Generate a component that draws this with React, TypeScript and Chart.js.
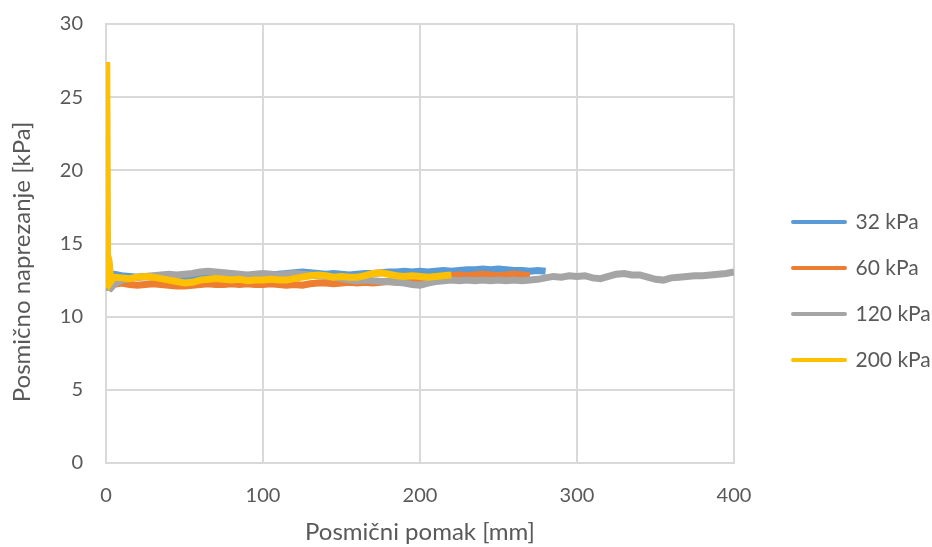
import { useEffect, useRef } from "react";
import { Chart, registerables } from "chart.js";

Chart.register(...registerables);

// Shear displacement [mm]
const displacement = [
  0, 0.5, 1, 2, 3, 5,
  10, 15, 20, 25, 30, 35, 40, 45, 50, 55,
  60, 65, 70, 75, 80, 85, 90, 95, 100, 105,
  110, 115, 120, 125, 130, 135, 140, 145, 150, 155,
  160, 165, 170, 175, 180, 185, 190, 195, 200, 205,
  210, 215, 220, 225, 230, 235, 240, 245, 250, 255,
  260, 265, 270, 275, 280, 285, 290, 295, 300, 305,
  310, 315, 320, 325, 330, 335, 340, 345, 350, 355,
  360, 365, 370, 375, 380, 385, 390, 395, 400,
];

const seriesLabels = ["32 kPa", "60 kPa", "120 kPa", "200 kPa"];

// Shear stress [kPa]
const stress32 = [
  12.5, 13.0, 12.9, 12.8, 12.9, 12.9,
  12.8, 12.75, 12.7, 12.75, 12.7, 12.65, 12.6, 12.65, 12.7, 12.75,
  12.8, 12.8, 12.75, 12.7, 12.75, 12.7, 12.75, 12.8, 12.8, 12.85,
  12.9, 12.95, 13.0, 13.05, 13.0, 12.95, 12.9, 12.95, 12.9, 12.85,
  12.9, 12.95, 12.95, 13.0, 13.05, 13.05, 13.1, 13.05, 13.1, 13.05,
  13.1, 13.15, 13.1, 13.15, 13.2, 13.2, 13.25, 13.2, 13.25, 13.2,
  13.15, 13.15, 13.1, 13.15, 13.1,
];

const stress60 = [
  12.0, 12.5, 12.4, 12.2, 12.3, 12.2,
  12.3, 12.2, 12.15, 12.2, 12.25, 12.2, 12.15, 12.1, 12.1, 12.15,
  12.2, 12.25, 12.2, 12.2, 12.25, 12.2, 12.25, 12.2, 12.2, 12.25,
  12.2, 12.15, 12.2, 12.15, 12.25, 12.3, 12.3, 12.25, 12.3, 12.35,
  12.3, 12.35, 12.3, 12.35, 12.4, 12.35, 12.4, 12.45, 12.5, 12.6,
  12.7, 12.75, 12.8, 12.85, 12.8, 12.85, 12.9, 12.85, 12.8, 12.85,
  12.9, 12.85, 12.8,
];

const stress120 = [
  12.0, 12.6, 12.3, 12.0, 11.95, 12.2,
  12.5, 12.6, 12.7, 12.75, 12.8, 12.85, 12.9, 12.85, 12.9, 12.95,
  13.05, 13.1, 13.05, 13.0, 12.95, 12.9, 12.85, 12.9, 12.95, 12.9,
  12.85, 12.9, 12.95, 12.9, 12.85, 12.8, 12.75, 12.7, 12.6, 12.5,
  12.45, 12.5, 12.45, 12.4, 12.4, 12.35, 12.3, 12.2, 12.15, 12.3,
  12.4, 12.45, 12.5, 12.45, 12.5, 12.45, 12.5, 12.45, 12.5, 12.45,
  12.5, 12.45, 12.5, 12.55, 12.65, 12.75, 12.7, 12.8, 12.75, 12.8,
  12.65, 12.6, 12.75, 12.9, 12.95, 12.85, 12.85, 12.7, 12.55, 12.5,
  12.65, 12.7, 12.75, 12.8, 12.8, 12.85, 12.9, 12.95, 13.05,
];

const stress200 = [
  12.2, 27.4, 14.2, 13.8, 12.4, 12.7,
  12.65, 12.6, 12.7, 12.75, 12.7, 12.6, 12.5, 12.4, 12.3, 12.35,
  12.5, 12.55, 12.6, 12.55, 12.5, 12.55, 12.45, 12.5, 12.5, 12.55,
  12.5, 12.5, 12.6, 12.7, 12.8, 12.85, 12.8, 12.7, 12.75, 12.7,
  12.7, 12.8, 12.95, 13.0, 12.9, 12.8, 12.75, 12.8, 12.75, 12.7,
  12.75, 12.8, 12.85,
];

const seriesColors = ["#5B9BD5", "#ED7D31", "#A5A5A5", "#FFC000"];

const xTickValues = [0, 100, 200, 300, 400];
const yTickValues = [0, 5, 10, 15, 20, 25, 30];

const xTitle = "Posmični pomak [mm]";
const yTitle = "Posmično naprezanje [kPa]";

const TEXT = "#595959";
const GRID = "#d9d9d9";
const FONT = "Lato";

const legendShift = {
  id: "legendShift",
  afterLayout(c: any) {
    const l = c.legend;
    if (l) {
      l.left += 34;
      l.right += 34;
    }
  },
};

export default function App() {
  const canvasRef = useRef<HTMLCanvasElement | null>(null);

  useEffect(() => {
    const canvas = canvasRef.current;
    if (!canvas) return;
    const all = [stress32, stress60, stress120, stress200];
    const datasets = all.map((vals, i) => ({
      label: seriesLabels[i],
      data: vals.map((y, j) => ({ x: displacement[j], y })),
      borderColor: seriesColors[i],
      backgroundColor: seriesColors[i],
      borderWidth: 7,
      pointRadius: 0,
      tension: 0,
      fill: false,
      order: 4 - i,
    }));

    const chart = new Chart(canvas, {
      type: "line",
      data: { datasets },
      plugins: [legendShift],
      options: {
        animation: false,
        responsive: true,
        maintainAspectRatio: false,
        layout: { padding: { top: 24, left: 0, right: 0, bottom: 0 } },
        plugins: {
          tooltip: { enabled: false },
          legend: {
            position: "right",
            reverse: true,
            title: { display: true, text: "", padding: 0, font: { size: 9 } },
            labels: {
              usePointStyle: true,
              pointStyle: "line",
              pointStyleWidth: 52,
              padding: 25,
              color: TEXT,
              font: { family: FONT, size: 21 },
              generateLabels: (c: any) =>
                (Chart.defaults.plugins.legend.labels as any)
                  .generateLabels(c)
                  .map((l: any) => ({ ...l, lineWidth: 4, lineCap: "round" })),
            },
          },
        },
        scales: {
          x: {
            type: "linear",
            min: 0,
            max: 400,
            afterFit: (s: any) => {
              s.paddingRight = 198;
              s.height = 84;
            },
            afterBuildTicks: (s: any) => {
              s.ticks = xTickValues.map((v) => ({ value: v }));
            },
            grid: { color: GRID, lineWidth: 2, drawTicks: false },
            border: { color: GRID, width: 2 },
            ticks: {
              color: TEXT,
              padding: 21,
              font: { family: FONT, size: 20 },
              maxRotation: 0,
            },
            title: {
              display: true,
              text: xTitle,
              color: TEXT,
              font: { family: FONT, size: 24 },
              padding: { top: 0, bottom: 0 },
            },
          },
          y: {
            min: 0,
            max: 30,
            afterFit: (s: any) => {
              s.width = 106;
              s.paddingTop = 0;
              s.paddingBottom = 0;
            },
            afterBuildTicks: (s: any) => {
              s.ticks = yTickValues.map((v) => ({ value: v }));
            },
            grid: { color: GRID, lineWidth: 2, drawTicks: false },
            border: { color: GRID, width: 2 },
            ticks: {
              color: TEXT,
              padding: 23,
              font: { family: FONT, size: 20 },
            },
            title: {
              display: true,
              text: yTitle + "      ",
              color: TEXT,
              font: { family: FONT, size: 24 },
              padding: { top: 8, bottom: 0 },
            },
          },
        },
      },
    });
    return () => chart.destroy();
  }, []);

  return (
    <div
      style={{
        position: "fixed",
        left: 0,
        top: 0,
        width: 932,
        height: 547,
        background: "#ffffff",
      }}
    >
      <canvas ref={canvasRef} />
    </div>
  );
}
